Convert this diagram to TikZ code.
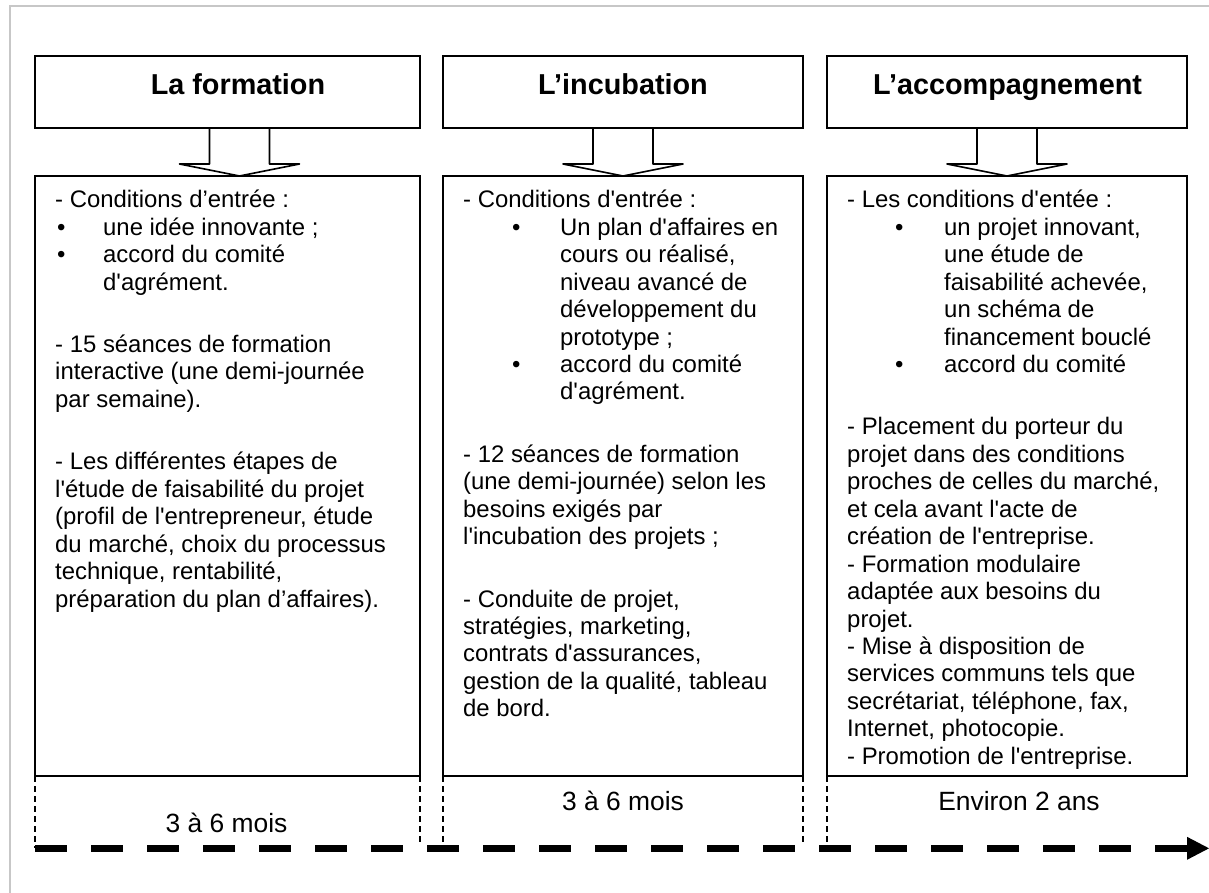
\documentclass[tikz,border=0pt]{standalone}
\usepackage{fontspec}
\newfontfamily\arial{Liberation Sans}
\usetikzlibrary{calc}
\newcommand\bl[2]{\makebox[#2][l]{\hspace*{#1}•}}
\newcommand\blockarr[3]{%
  \draw[arrowline] ([xshift=#3-30pt]#1.south) -- ([xshift=#3-30pt,yshift=12pt]#2.north)
    -- ([xshift=#3-60pt,yshift=12pt]#2.north) -- ([xshift=#3]#2.north)
    -- ([xshift=#3+60pt,yshift=12pt]#2.north) -- ([xshift=#3+30pt,yshift=12pt]#2.north)
    -- ([xshift=#3+30pt]#1.south);}
\begin{document}
\begin{tikzpicture}[x=1pt,y=1pt,
  box/.style={draw=black, line width=1.8pt, inner sep=0pt, outer sep=0pt, rectangle},
  titlebox/.style={box, minimum height=72pt},
  contentbox/.style={box, minimum height=600pt},
  titletext/.style={font=\arial\bfseries\fontsize{28.8}{34}\selectfont, anchor=base, inner sep=0pt},
  body/.style={font=\arial\fontsize{23.9}{27.46}\selectfont, anchor=base west, inner sep=0pt},
  dur/.style={font=\arial\fontsize{26.4}{30}\selectfont, anchor=base, inner sep=0pt},
  arrowline/.style={draw=black, line width=1.6pt, line join=round},
  thindash/.style={draw=black, line width=1.2pt, dash pattern=on 6pt off 4pt},
  timeline/.style={draw=black, line width=7.3pt, dash pattern=on 32pt off 24pt},
  frame/.style={draw=black!22, line width=2.5pt}
]
\useasboundingbox (0,0) rectangle (1209,-892);
\begin{scope}
  \clip (0,0) rectangle (1209,-892);
  \draw[frame] (10,-920) -- (10,-6) -- (1230,-6);
\end{scope}

% title boxes
\node[titlebox, minimum width=385pt] (t1) at (227.5,-92) {};
\node[titlebox, minimum width=360pt] (t2) at (623,-92) {};
\node[titlebox, minimum width=360pt] (t3) at (1007,-92) {};
\node[titletext] (t1txt) at (238,-94) {La formation};
\node[titletext] (t2txt) at (623,-94) {L’incubation};
\node[titletext] (t3txt) at (1007.5,-94) {L’accompagnement};

% content boxes
\node[contentbox, minimum width=385pt] (c1) at (227.5,-476) {};
\node[contentbox, minimum width=360pt] (c2) at (623,-476) {};
\node[contentbox, minimum width=360pt] (c3) at (1007,-476) {};

% block arrows
\blockarr{t1}{c1}{12pt}
\blockarr{t2}{c2}{0pt}
\blockarr{t3}{c3}{0pt}

% texts
\node[body] (b1) at (55,-207.7) {\begin{tabular}[t]{@{}l@{}}
- Conditions d’entrée :\\
\bl{1.8pt}{48pt}une idée innovante ;\\
\bl{1.8pt}{48pt}accord du comité\\
\hspace*{48pt}d'agrément.\\[34.9pt]
- 15 séances de formation\\
interactive (une demi-journée\\
par semaine).\\[34.9pt]
- Les différentes étapes de\\
l'étude de faisabilité du projet\\
(profil de l'entrepreneur, étude\\
du marché, choix du processus\\
technique, rentabilité,\\
préparation du plan d’affaires).
\end{tabular}};

\node[body] (b2) at (463,-207.7) {\begin{tabular}[t]{@{}l@{}}
- Conditions d'entrée :\\
\bl{48.8pt}{97pt}Un plan d'affaires en\\
\hspace*{97pt}cours ou réalisé,\\
\hspace*{97pt}niveau avancé de\\
\hspace*{97pt}développement du\\
\hspace*{97pt}prototype ;\\
\bl{48.8pt}{97pt}accord du comité\\
\hspace*{97pt}d'agrément.\\[34.9pt]
- 12 séances de formation\\
(une demi-journée) selon les\\
besoins exigés par\\
l'incubation des projets ;\\[34.9pt]
- Conduite de projet,\\
stratégies, marketing,\\
contrats d'assurances,\\
gestion de la qualité, tableau\\
de bord.
\end{tabular}};

\node[body] (b3) at (847,-207.7) {\begin{tabular}[t]{@{}l@{}}
- Les conditions d'entée :\\
\bl{47.8pt}{97pt}un projet innovant,\\
\hspace*{97pt}une étude de\\
\hspace*{97pt}faisabilité achevée,\\
\hspace*{97pt}un schéma de\\
\hspace*{97pt}financement bouclé\\
\bl{47.8pt}{97pt}accord du comité\\[34.9pt]
- Placement du porteur du\\
projet dans des conditions\\
proches de celles du marché,\\
et cela avant l'acte de\\
création de l'entreprise.\\
- Formation modulaire\\
adaptée aux besoins du\\
projet.\\
- Mise à disposition de\\
services communs tels que\\
secrétariat, téléphone, fax,\\
Internet, photocopie.\\
- Promotion de l'entreprise.
\end{tabular}};

% timeline
\coordinate (tstart) at (35,-848.3);
\coordinate (tend) at (1209,-848.3);
\draw[timeline] (tstart) -- ($(tend)+(-22,0)$);
\fill[black] (tend) -- ($(tend)+(-22,11.5)$) -- ($(tend)+(-22,-11.5)$) -- cycle;

% dashed verticals
\draw[thindash] (c1.south west) -- (c1.south west |- tstart);
\draw[thindash] (c1.south east) -- ($(c1.south east |- tstart)+(0,5)$);
\draw[thindash] (c2.south west) -- (c2.south west |- tstart);
\draw[thindash] (c2.south east) -- ($(c2.south east |- tstart)+(0,5)$);
\draw[thindash] (c3.south west) -- (c3.south west |- tstart);

% durations
\node[dur] (d1) at (226.5,-832.7) {3 à 6 mois};
\node[dur] (d2) at (623,-810.7) {3 à 6 mois};
\node[dur] (d3) at (1019,-810.7) {Environ 2 ans};
\end{tikzpicture}
\end{document}
